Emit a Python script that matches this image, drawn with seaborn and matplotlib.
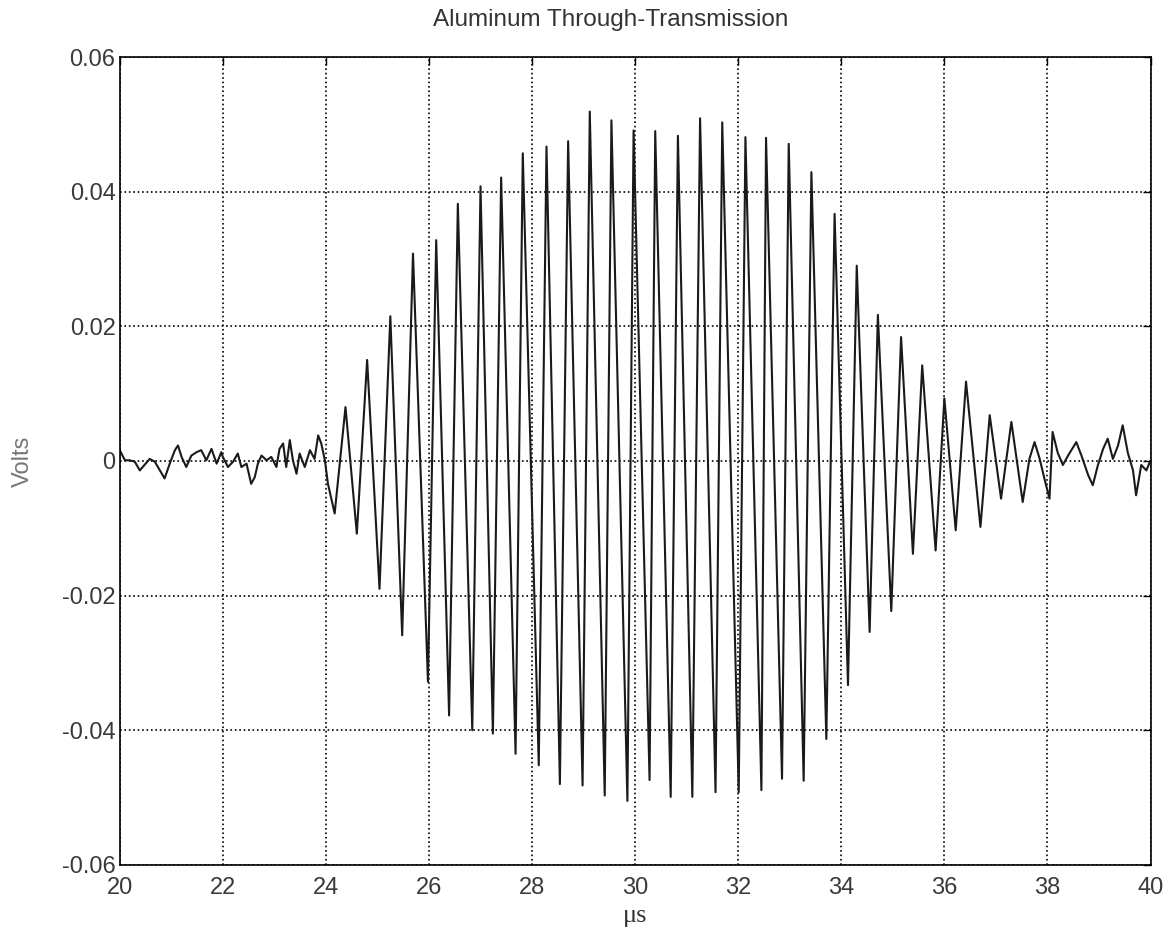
import numpy as np
import matplotlib
matplotlib.use("Agg")
import matplotlib.pyplot as plt
import seaborn as sns

sns.set_theme(style="white")
plt.rcParams['font.family'] = ['Liberation Sans', 'DejaVu Sans']

# 读图得到的时间点 (μs) 与电压 (V)
# 前段噪声 20-24 μs
t_noise = [20.00, 20.10, 20.19, 20.29, 20.39, 20.48, 20.58, 20.68, 20.78, 20.87,
           20.97, 21.07, 21.13, 21.20, 21.29, 21.39, 21.49, 21.58, 21.68, 21.78,
           21.88, 21.97, 22.00, 22.10, 22.20, 22.29, 22.36, 22.46, 22.55, 22.62,
           22.68, 22.75, 22.85, 22.94, 23.04, 23.10, 23.17, 23.23, 23.30, 23.36,
           23.43, 23.49, 23.59, 23.69, 23.78, 23.85, 23.91, 23.98]
v_noise = [0.0016, 0.0001, 0.0001, -0.0001, -0.0014, -0.0006, 0.0003, -0.0001, -0.0014, -0.0026,
           -0.0004, 0.0016, 0.0023, 0.0006, -0.0009, 0.0008, 0.0013, 0.0016, 0.0001, 0.0018,
           -0.0004, 0.0013, 0.0006, -0.0009, -0.0001, 0.0011, -0.0009, -0.0004, -0.0034, -0.0024,
           -0.0004, 0.0008, 0.0001, 0.0006, -0.0009, 0.0018, 0.0026, -0.0009, 0.0031, 0.0001,
           -0.0019, 0.0011, -0.0009, 0.0016, 0.0003, 0.0038, 0.0026, 0.0001]

# 中段脉冲串：峰与谷
t_burst = [24.04, 24.17, 24.38, 24.60, 24.80, 25.04, 25.25, 25.48, 25.69, 25.98,
           26.14, 26.39, 26.56, 26.84, 27.00, 27.24, 27.40, 27.68, 27.82, 28.13,
           28.28, 28.54, 28.70, 28.98, 29.12, 29.41, 29.54, 29.85, 29.97, 30.28,
           30.39, 30.69, 30.83, 31.11, 31.26, 31.56, 31.69, 32.01, 32.14, 32.45,
           32.54, 32.85, 32.98, 33.27, 33.42, 33.71, 33.87, 34.13, 34.30, 34.55,
           34.71, 34.97, 35.16, 35.39, 35.57, 35.83, 36.00, 36.22, 36.42, 36.70,
           36.88, 37.10, 37.30, 37.52]
v_burst = [-0.0034, -0.0078, 0.0080, -0.0108, 0.0150, -0.0190, 0.0215, -0.0259, 0.0308, -0.0328,
           0.0328, -0.0378, 0.0382, -0.0400, 0.0408, -0.0405, 0.0421, -0.0435, 0.0457, -0.0452,
           0.0467, -0.0480, 0.0475, -0.0482, 0.0519, -0.0497, 0.0506, -0.0505, 0.0491, -0.0474,
           0.0490, -0.0499, 0.0483, -0.0499, 0.0509, -0.0492, 0.0503, -0.0492, 0.0481, -0.0489,
           0.0480, -0.0472, 0.0471, -0.0475, 0.0429, -0.0413, 0.0367, -0.0333, 0.0290, -0.0254,
           0.0217, -0.0223, 0.0184, -0.0138, 0.0142, -0.0133, 0.0093, -0.0103, 0.0118, -0.0098,
           0.0068, -0.0056, 0.0058, -0.0061]

# 尾段 37.6-40 μs
t_tail = [37.65, 37.75, 37.85, 37.94, 38.04, 38.10, 38.20, 38.30, 38.40, 38.56,
          38.66, 38.79, 38.88, 38.98, 39.08, 39.17, 39.27, 39.37, 39.46, 39.56,
          39.66, 39.72, 39.82, 39.92, 39.99]
v_tail = [0.0003, 0.0028, 0.0003, -0.0026, -0.0056, 0.0043, 0.0012, -0.0006, 0.0008, 0.0028,
          0.0008, -0.0021, -0.0036, -0.0006, 0.0018, 0.0033, 0.0003, 0.0023, 0.0053, 0.0012,
          -0.0014, -0.0051, -0.0006, -0.0014, -0.0001]

t_all = t_noise + t_burst + t_tail
v_all = v_noise + v_burst + v_tail

x_ticks = [20, 22, 24, 26, 28, 30, 32, 34, 36, 38, 40]
y_ticks = [-0.06, -0.04, -0.02, 0, 0.02, 0.04, 0.06]
y_ticklabels = ['-0.06', '-0.04', '-0.02', '0', '0.02', '0.04', '0.06']

fig = plt.figure(figsize=(11.74, 9.35), dpi=100)
ax = fig.add_axes([0.102, 0.075, 0.878, 0.864])

sns.lineplot(x=t_all, y=v_all, ax=ax, color='#1a1a1a', lw=1.5,
             estimator=None, sort=False)

ax.set_xlim(20, 40)
ax.set_ylim(-0.06, 0.06)
ax.set_xticks(x_ticks)
ax.set_yticks(y_ticks)
ax.set_yticklabels(y_ticklabels)
ax.grid(True, color='black', linestyle=':', linewidth=1.2)
ax.tick_params(direction='in', top=True, right=True, length=6, width=1,
               labelsize=17, labelcolor='#3a3a3a', color='black')
ax.tick_params(axis='x', pad=9)
ax.tick_params(axis='y', pad=3)
for s in ax.spines.values():
    s.set_color('black')
    s.set_linewidth(1.2)

# 标题在原图中略偏左
ax.set_title('Aluminum Through-Transmission', fontsize=17.5, color='#333333',
             pad=22, x=0.476)
ax.set_xlabel('μs', fontsize=19, family=['Liberation Serif', 'DejaVu Serif'],
              color='#333333', labelpad=4)
ax.set_ylabel('Volts', fontsize=17, color='#777777', labelpad=20)

fig.savefig('out.png', dpi=100)
